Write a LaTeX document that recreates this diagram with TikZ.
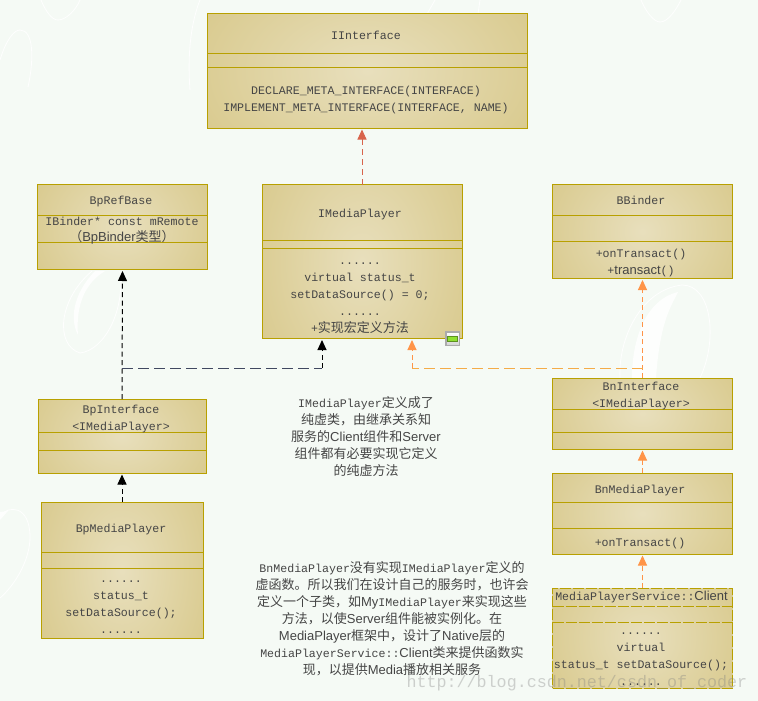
\documentclass[tikz,border=0pt]{standalone}
\usepackage{fontspec}
\usetikzlibrary{arrows.meta,calc}
\setmainfont{Liberation Mono}
\newfontfamily\zhfont{Noto Sans CJK SC}
\newfontfamily\lsfont{Liberation Sans}
\newcommand{\zh}[1]{{\zhfont\fontsize{13}{17}\selectfont #1}}
\newcommand{\ls}[1]{{\lsfont\fontsize{13}{17}\selectfont #1}}
\definecolor{bgc}{HTML}{F5FAF5}
\definecolor{borderc}{HTML}{B8A000}
\definecolor{txtc}{HTML}{454545}
\definecolor{redc}{HTML}{D8644C}
\definecolor{orc}{HTML}{FF9448}
\definecolor{orh}{HTML}{F4AC48}
\definecolor{slatec}{HTML}{404860}
\definecolor{icong}{HTML}{90E030}
\definecolor{icond}{HTML}{5C9020}
\pgfdeclarefunctionalshading{boxshade}{\pgfpoint{-50bp}{-50bp}}{\pgfpoint{50bp}{50bp}}{}{%
  50 div dup mul 0.3 mul exch 50 div dup mul add sqrt
  dup -0.1 mul 0.91 add exch
  dup -0.14 mul 0.875 add exch
  -0.31 mul 0.74 add
}
\tikzset{
  umlbox/.style={draw=borderc,line width=1pt,shading=boxshade,inner sep=0pt,outer sep=0pt,anchor=north west},
  umldash/.style={umlbox,dash pattern=on 11pt off 2pt},
  sepline/.style={draw=borderc,line width=1pt},
  seplined/.style={sepline,dash pattern=on 11pt off 2pt},
  lbl/.style={text=txtc,align=center,inner sep=0pt,font=\fontsize{11.6}{17}\selectfont},
  tip/.style={-{Triangle[width=9pt,length=10pt]},shorten >=1.5pt},
  conn/.style={line width=1pt,tip},
  plain/.style={line width=1pt},
  blk/.style={conn,draw=black,dash pattern=on 5pt off 3.5pt},
  slt/.style={plain,draw=slatec,dash pattern=on 11pt off 5pt},
  rd/.style={conn,draw=redc,dash pattern=on 6pt off 4pt},
  org/.style={conn,draw=orc,dash pattern=on 5pt off 3.5pt},
  orl/.style={plain,draw=orh,dash pattern=on 11pt off 5pt},
  swoosh/.style={draw=white,line width=.8pt,opacity=.9},
  swooshf/.style={fill=white,opacity=.8},
}
\begin{document}
\begin{tikzpicture}[x=1pt,y=-1pt]
\useasboundingbox (0,0) rectangle (758,701);
\fill[bgc] (0,0) rectangle (758,701);
% background decoration
\draw[swoosh] (92,271) .. controls (58,300) and (55,345) .. (80,353) .. controls (105,350) and (125,310) .. (120,271);
\fill[swooshf] (95,271) .. controls (72,295) and (70,320) .. (78,335) .. controls (76,310) and (82,285) .. (105,271) -- cycle;
\draw[swoosh] (620,378) .. controls (618,340) and (640,290) .. (682,285) .. controls (712,285) and (718,340) .. (700,378);
\fill[swooshf] (632,378) .. controls (632,340) and (645,300) .. (678,292) .. controls (672,305) and (660,320) .. (656,378) -- cycle;
\draw[swoosh] (0,516) .. controls (8,505) and (30,505) .. (30,537) .. controls (30,560) and (15,585) .. (0,598);
\fill[swooshf] (0,512) -- (8,511) -- (0,520) -- cycle;
\draw[swoosh] (41,0) .. controls (46,12) and (52,20) .. (58,20) .. controls (66,20) and (76,10) .. (80,0);
\draw[swoosh] (0,60) .. controls (6,40) and (14,30) .. (20,30) .. controls (34,30) and (34,60) .. (28,87);
\draw[swoosh] (200,0) .. controls (192,20) and (187,50) .. (190,90);
\draw[swoosh] (641,0) .. controls (646,12) and (654,22) .. (660,22) .. controls (668,22) and (676,10) .. (681,0);
\draw[swoosh] (480,0) -- (478,14);
\draw[swoosh] (435,0) -- (427,14);

% boxes
\node[umlbox,minimum width=320pt,minimum height=114pt] (iface) at (207.5,14) {};
\node[umlbox,minimum width=170pt,minimum height=85pt] (brf) at (37.5,184.5) {};
\node[umlbox,minimum width=200pt,minimum height=154pt] (imp) at (262,184.5) {};
\node[umlbox,minimum width=180pt,minimum height=94pt] (bb) at (552.5,184.5) {};
\node[umlbox,minimum width=180pt,minimum height=71pt] (bni) at (552.5,378) {};
\node[umlbox,minimum width=180pt,minimum height=81pt] (bnm) at (552.5,473) {};
\node[umldash,minimum width=180pt,minimum height=100pt] (cli) at (552.5,588) {};
\node[umlbox,minimum width=168pt,minimum height=74pt] (bpi) at (38,399) {};
\node[umlbox,minimum width=162pt,minimum height=136pt] (bpm) at (41,502) {};

% compartments
\foreach \n/\a/\b in {iface/54/68,brf/215/242,imp/240/248,bb/215/241,bni/409/432,bnm/502/528,bpi/432/450,bpm/552/568}{
  \draw[sepline] (\n.west |- 0,\a) -- (\n.east |- 0,\a);
  \draw[sepline] (\n.west |- 0,\b) -- (\n.east |- 0,\b);
}
\draw[seplined] (cli.west |- 0,606) -- (cli.east |- 0,606);
\draw[seplined] (cli.west |- 0,622) -- (cli.east |- 0,622);

% labels
\node[lbl] (t1) at (366,35) {IInterface};
\node[lbl] (t2) at (366,100) {DECLARE\_META\_INTERFACE(INTERFACE)\\IMPLEMENT\_META\_INTERFACE(INTERFACE, NAME)};
\node[lbl] (t3) at (121,201) {BpRefBase};
\node[lbl] (t4) at (122,231) {IBinder* const mRemote\\[-1pt]\zh{（}\ls{BpBinder}\zh{类型）}};
\node[lbl] (t5) at (360,214) {IMediaPlayer};
\node[lbl] (t6) at (360,298) {......\\virtual status\_t\\setDataSource() = 0;\\......\\+\zh{实现宏定义方法}};
\node[lbl] (t7) at (641,200) {BBinder};
\node[lbl] (t8) at (641,262.5) {+onTransact()\\+\ls{transact}()};
\node[lbl] (t9) at (641,395.5) {BnInterface\\<IMediaPlayer>};
\node[lbl] (t10) at (640,490) {BnMediaPlayer};
\node[lbl] (t11) at (640,543) {+onTransact()};
\node[lbl] (t12) at (641.5,597) {MediaPlayerService::\ls{Client}};
\node[lbl] (t13) at (641,659) {......\\virtual\\status\_t setDataSource();\\......};
\node[lbl] (t14) at (121,418.5) {BpInterface\\<IMediaPlayer>};
\node[lbl] (t15) at (121,529) {BpMediaPlayer};
\node[lbl] (t16) at (121,607.5) {......\\status\_t\\setDataSource();\\......};
\node[lbl] (n1) at (366,437) {IMediaPlayer\zh{定义成了}\\\zh{纯虚类，由继承关系知}\\\zh{服务的}\ls{Client}\zh{组件和}\ls{Server}\\\zh{组件都有必要实现它定义}\\\zh{的纯虚方法}};
\node[lbl] (n2) at (392,619) {BnMediaPlayer\zh{没有实现}IMediaPlayer\zh{定义的}\\\zh{虚函数。所以我们在设计自己的服务时，也许会}\\\zh{定义一个子类，如}\ls{My}IMediaPlayer\zh{来实现这些}\\\zh{方法，以使}\ls{Server}\zh{组件能被实例化。在}\\\ls{MediaPlayer}\zh{框架中，设计了}\ls{Native}\zh{层的}\\MediaPlayerService::\ls{Client}\zh{类来提供函数实}\\\zh{现，以提供}\ls{Media}\zh{播放相关服务}};

% connectors
\coordinate (jb) at (122,368);
\coordinate (jo) at (642.5,368);
\coordinate (impl) at ($(imp.south)+(-40,0)$);
\coordinate (impr) at ($(imp.south)+(50,0)$);
\draw[rd] (imp.north) -- (imp.north |- iface.south);
\draw[blk] (bpi.north) -- (brf.south);
\draw[slt] (jb) -- (jb -| impl);
\draw[blk] (jb -| impl) -- (impl);
\draw[blk] (bpm.north) -- (bpi.south);
\draw[org] (bni.north) -- (bb.south);
\draw[orl] (jo) -- (jo -| impr);
\draw[org] (jo -| impr) -- (impr);
\draw[org] (bnm.north) -- (bni.south);
\draw[org] (cli.north) -- (bnm.south);

% small icon
\node[draw=black!33,line width=1.6pt,top color=white,bottom color=black!18,minimum width=13.5pt,minimum height=13.5pt,inner sep=0pt,outer sep=0pt,anchor=north west] (icon) at (446,332) {};
\node[draw=icond,fill=icong,line width=.6pt,minimum width=10pt,minimum height=4.5pt,inner sep=0pt] (iconb) at (icon.center) {};

% watermark
\node[text=black!50,opacity=.35,anchor=base east,inner sep=0pt,font=\fontsize{16.7}{17}\selectfont] (wm) at (747.5,687) {http://blog.csdn.net/csdn\_of\_coder};
\end{tikzpicture}
\end{document}
